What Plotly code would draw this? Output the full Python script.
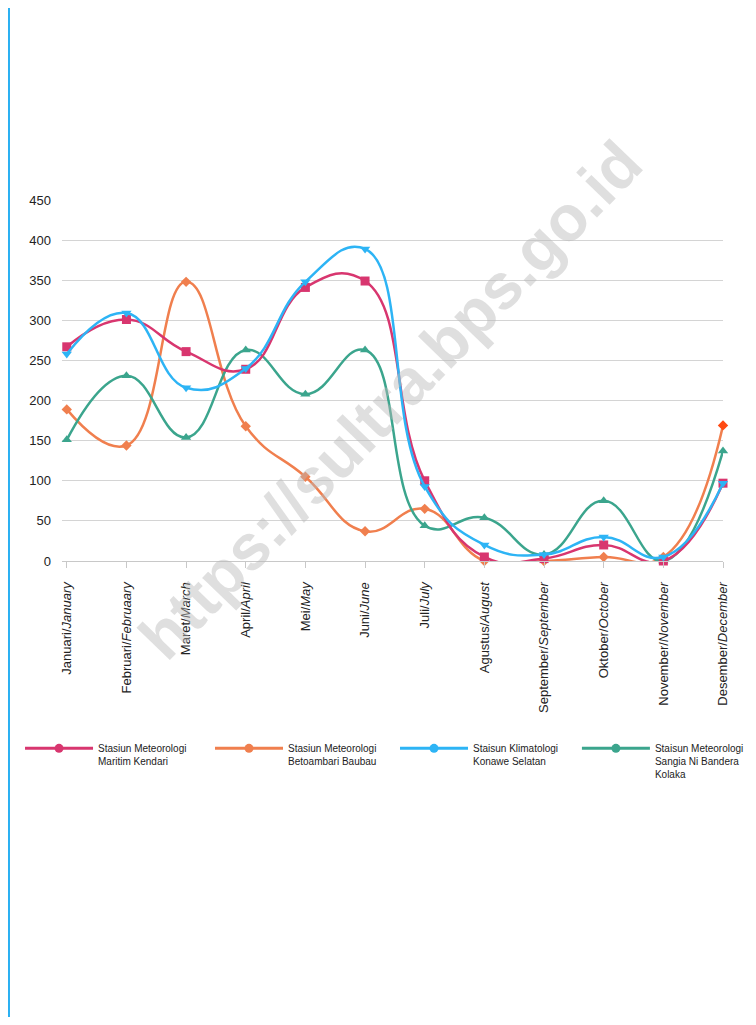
import plotly.graph_objects as go

months = ["Januari/<i>January</i>", "Februari/<i>Februaary</i>", "Maret/<i>March</i>", "April/<i>April</i>",
          "Mei/<i>May</i>", "Juni/<i>June</i>", "Juli/<i>July</i>", "Agustus/<i>August</i>",
          "September/<i>September</i>", "Oktober/<i>October</i>", "November/<i>November</i>",
          "Desember/<i>December</i>"]

kendari = [267, 301, 261, 239, 341, 349, 100, 5, 3, 20, 0, 97]
baubau = [189, 144, 348, 168, 105, 37, 65, 0, 0, 5, 5, 169]
konsel = [258, 309, 216, 240, 348, 389, 93, 20, 8, 30, 5, 97]
kolaka = [151, 231, 154, 263, 208, 263, 44, 54, 8, 75, 0, 137]

names = ["Stasiun Meteorologi<br>Maritim Kendari",
         "Stasiun Meteorologi<br>Betoambari Baubau",
         "Staisun Klimatologi<br>Konawe Selatan",
         "Staisun Meteorologi<br>Sangia Ni Bandera<br>Kolaka"]
colors = ["#d8366f", "#f07f4e", "#2db4f5", "#3ba58d"]
symbols = ["square", "diamond", "triangle-down", "triangle-up"]
series = [kendari, baubau, konsel, kolaka]

FONT = "Liberation Sans, Arial, Helvetica, sans-serif"
x = list(range(len(months)))
fig = go.Figure()
order = [1, 3, 0, 2]
for i in order:
    mcolors = [colors[i]] * len(x)
    if i == 1:
        mcolors[-1] = "#ff4a12"
    fig.add_trace(go.Scatter(
        x=x, y=series[i], mode="lines+markers", showlegend=False,
        line=dict(color=colors[i], width=2.5, shape="spline", smoothing=1.3),
        marker=dict(symbol=symbols[i], size=9 if i != 1 else 8, color=mcolors),
        cliponaxis=False))

legend_ids = ["legend", "legend2", "legend3", "legend4"]
legend_x = [-0.0635, 0.2239, 0.5038, 0.779]
for i in range(4):
    fig.add_trace(go.Scatter(
        x=[None], y=[None], mode="lines+markers", name=names[i], legend=legend_ids[i],
        line=dict(color=colors[i], width=3), marker=dict(symbol="circle", size=9, color=colors[i])))

legend_layout = {}
for lid, lx in zip(legend_ids, legend_x):
    legend_layout[lid] = dict(orientation="v", x=lx, xanchor="left", y=-0.483, yanchor="top",
                              font=dict(size=10, color="#222", family=FONT), itemwidth=68,
                              valign="top", bgcolor="rgba(0,0,0,0)")

fig.update_layout(
    width=740, height=1009,
    margin=dict(l=54, r=25, t=192, b=456, autoexpand=False),
    paper_bgcolor="white", plot_bgcolor="white",
    font=dict(family=FONT, size=12, color="#222"),
    xaxis=dict(range=[-0.08, 11], tickmode="array", tickvals=x, ticktext=months,
               tickangle=-90, showgrid=False, ticks="outside", ticklen=6, tickcolor="#c8c8c8",
               showline=True, linecolor="#c8c8c8", linewidth=1, tickfont=dict(size=13, color="#222"),
               zeroline=False, ticklabelstandoff=9),
    yaxis=dict(range=[0, 450], dtick=50, showgrid=True, gridcolor="#d4d4d4", gridwidth=1,
               zeroline=False, tickfont=dict(size=13, color="#222"), ticks="", ticklabelstandoff=10),
    shapes=[dict(type="line", xref="paper", yref="paper", x0=-0.0802, x1=-0.0802, y0=-1.3, y1=1.546,
                 line=dict(color="#2ab0f2", width=2))],
    annotations=[dict(text="https://sultra.bps.go.id", xref="paper", yref="paper", x=0.497, y=0.445,
                      showarrow=False, textangle=-46, font=dict(size=64, color="rgba(185,185,185,0.45)",
                      family=FONT, weight="bold"))],
    **legend_layout
)

fig.write_html("out.html")
